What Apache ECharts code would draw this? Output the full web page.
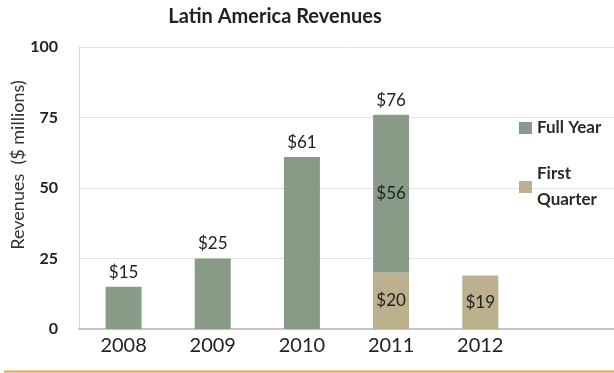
<!DOCTYPE html>
<html>
<head>
<meta charset="utf-8">
<script src="https://cdn.jsdelivr.net/npm/echarts@6/dist/echarts.min.js"></script>
<style>
  html, body { margin: 0; padding: 0; background: #fff; }
  #chart { width: 614px; height: 373px; }
</style>
</head>
<body>
<div id="chart"></div>
<script>
// Latin America revenue, $ millions
const years = ['2008', '2009', '2010', '2011', '2012'];
const fullYear = [15, 25, 61, 56, null];
const firstQuarter = [null, null, null, 20, 19];
const yTicks = [0, 25, 50, 75, 100];

const FONT = 'Lato, "Open Sans", sans-serif';
const GREEN = '#889b86';
const TAN = '#bdb08e';
const money = v => '$' + v;

// 2011 total shown above the stacked bar
const total2011 = fullYear[3] + firstQuarter[3];

const valueLabel = {
  fontFamily: FONT, fontSize: 17, color: '#222',
  formatter: p => money(p.value)
};

const chart = echarts.init(document.getElementById('chart'));

chart.setOption({
  animation: false,
  backgroundColor: '#ffffff',
  textStyle: { fontFamily: FONT },
  grid: { left: 79, right: 0, top: 47, bottom: 44 },
  legend: {
    orient: 'vertical',
    left: 514,
    top: 110,
    itemWidth: 13,
    itemHeight: 12,
    itemGap: 7,
    icon: 'rect',
    textStyle: { fontFamily: FONT, fontSize: 17, color: '#2a2a2a', fontWeight: 'bold', lineHeight: 26 },
    data: [
      { name: 'Full Year' },
      { name: 'First Quarter', textStyle: { padding: [26, 0, 0, 0] } }
    ],
    formatter: name => name === 'First Quarter' ? 'First\nQuarter' : name
  },
  xAxis: {
    type: 'category',
    data: years,
    max: years.length,
    axisTick: { show: false },
    axisLine: { lineStyle: { color: '#c4c4c4', width: 2 } },
    axisLabel: { fontFamily: FONT, fontSize: 20, color: '#222', margin: 7 },
    splitLine: { show: false }
  },
  yAxis: {
    type: 'value',
    min: yTicks[0],
    max: yTicks[yTicks.length - 1],
    interval: 25,
    axisLine: { show: true, lineStyle: { color: '#dcdcdc', width: 1 } },
    axisTick: { show: false },
    axisLabel: { fontFamily: FONT, fontSize: 16, fontWeight: 'bold', color: '#222', margin: 21 },
    splitLine: { lineStyle: { color: '#e2e2e2', width: 1 } }
  },
  series: [
    {
      name: 'First Quarter',
      type: 'bar',
      stack: 'rev',
      barWidth: 36,
      itemStyle: { color: TAN },
      label: Object.assign({ show: true, position: 'inside' }, valueLabel),
      data: firstQuarter
    },
    {
      name: 'Full Year',
      type: 'bar',
      stack: 'rev',
      barWidth: 36,
      itemStyle: { color: GREEN },
      label: Object.assign({ show: true, position: 'top', distance: 6 }, valueLabel),
      data: fullYear.map((v, i) =>
        firstQuarter[i] != null && v != null
          ? { value: v, label: { position: 'inside' } }
          : v),
      markPoint: {
        symbol: 'circle',
        symbolSize: 0,
        label: Object.assign({ show: true, position: 'top', distance: 6 }, valueLabel),
        data: [{ coord: [3, total2011], value: total2011 }]
      }
    }
  ],
  graphic: [
    {
      type: 'text',
      x: 275, y: 7,
      style: {
        text: 'Latin America Revenues',
        textAlign: 'center',
        fontFamily: FONT, fontSize: 20, fontWeight: 'bold', fill: '#222'
      }
    },
    {
      type: 'text',
      x: 18, y: 165,
      rotation: Math.PI / 2,
      style: {
        text: 'Revenues  ($ millions)',
        textAlign: 'center',
        textVerticalAlign: 'middle',
        fontFamily: FONT, fontSize: 18, fill: '#333'
      }
    },
    {
      type: 'line',
      shape: { x1: 4, y1: 371.5, x2: 614, y2: 371.5 },
      style: { stroke: '#f0a232', lineWidth: 2 }
    }
  ]
});
</script>
</body>
</html>
